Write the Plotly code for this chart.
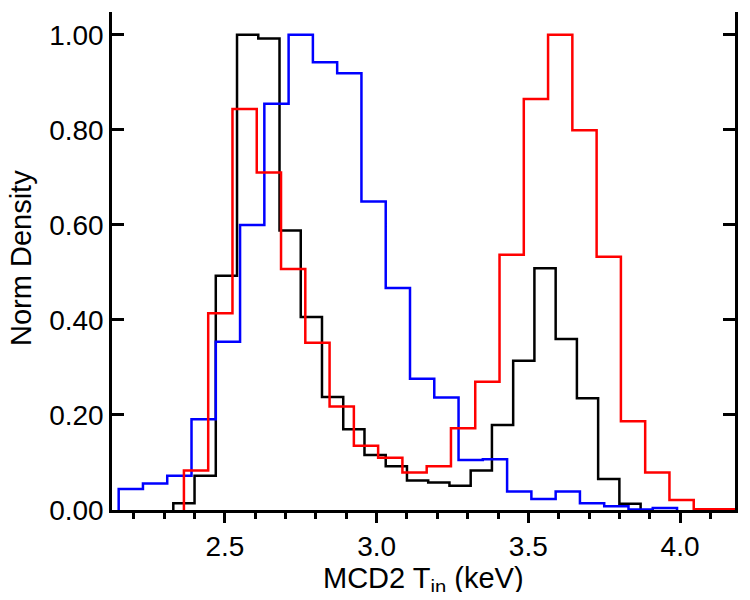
import plotly.graph_objects as go

# bin edges (keV) and normalised densities
black_edges = [2.33, 2.40, 2.47, 2.54, 2.61, 2.68, 2.75, 2.82, 2.89, 2.96, 3.03, 3.10,
               3.17, 3.24, 3.31, 3.38, 3.45, 3.52, 3.59, 3.66, 3.73, 3.80, 3.87]
black_vals = [0.014, 0.072, 0.493, 1.000, 0.992, 0.588, 0.406, 0.238, 0.170, 0.116, 0.092,
              0.062, 0.058, 0.051, 0.083, 0.179, 0.314, 0.509, 0.360, 0.235, 0.065, 0.013]

blue_edges = [2.15, 2.23, 2.31, 2.39, 2.47, 2.55, 2.63, 2.71, 2.79, 2.87, 2.95, 3.03,
              3.11, 3.19, 3.27, 3.35, 3.43, 3.51, 3.59, 3.67, 3.75, 3.83, 3.91, 3.99]
blue_vals = [0.044, 0.056, 0.072, 0.191, 0.354, 0.600, 0.855, 1.000, 0.942, 0.919, 0.649,
             0.467, 0.276, 0.237, 0.105, 0.107, 0.039, 0.023, 0.039, 0.014, 0.008, 0.001, 0.004]

red_edges = [2.365, 2.445, 2.525, 2.605, 2.685, 2.765, 2.845, 2.925, 3.005, 3.085, 3.165,
             3.245, 3.325, 3.405, 3.485, 3.565, 3.645, 3.725, 3.805, 3.885, 3.965, 4.045,
             4.125, 4.205]
red_vals = [0.083, 0.414, 0.844, 0.710, 0.507, 0.352, 0.218, 0.135, 0.110, 0.079, 0.092,
            0.172, 0.270, 0.537, 0.865, 1.000, 0.799, 0.533, 0.187, 0.079, 0.021, 0.0015,
            0.0015]

x_ticks = [2.5, 3.0, 3.5, 4.0]
x_labels = ["2.5", "3.0", "3.5", "4.0"]
y_ticks = [0, 0.2, 0.4, 0.6, 0.8, 1.0]
y_labels = ["0.00", "0.20", "0.40", "0.60", "0.80", "1.00"]
x_title = "MCD2 T<sub>in</sub> (keV)"
y_title = "Norm Density"

x_range = [2.128, 4.181]
y_range = [0, 1.048]
FONT = "Liberation Sans, Arial, Helvetica, sans-serif"
LW = 2.5


def step_trace(edges, vals, color):
    # outline histogram: up from zero at first edge, down to zero at last edge
    xs = [edges[0]] + list(edges)
    ys = [0] + list(vals) + [0]
    return go.Scatter(x=xs, y=ys, mode="lines", line=dict(color=color, width=LW, shape="hv"),
                      showlegend=False, hoverinfo="skip")


fig = go.Figure()
fig.add_trace(step_trace(black_edges, black_vals, "black"))
fig.add_trace(step_trace(blue_edges, blue_vals, "#0000ff"))
fig.add_trace(step_trace(red_edges, red_vals, "#ff0000"))

# page body has an 8px margin, so the figure is a bit smaller than the window
fig.update_layout(
    width=734, height=584,
    margin=dict(l=104, r=7, t=4, b=82, autoexpand=False),
    plot_bgcolor="white", paper_bgcolor="white",
    font=dict(family=FONT, size=25, color="black"),
    xaxis=dict(
        range=x_range, showgrid=False, zeroline=False, automargin=False,
        showline=True, linecolor="black", linewidth=LW,
        ticks="outside", ticklen=10, tickwidth=LW, tickcolor="black",
        tickvals=x_ticks, ticktext=x_labels,
        minor=dict(dtick=0.1, tick0=2.0, ticks="outside", ticklen=6, tickwidth=LW,
                   tickcolor="black", showgrid=False),
        tickfont=dict(size=28),
    ),
    xaxis2=dict(
        range=x_range, overlaying="x", side="top", anchor="y", automargin=False,
        showgrid=False, zeroline=False,
        showline=True, linecolor="black", linewidth=LW,
        ticks="inside", ticklen=9, tickwidth=LW, tickcolor="black",
        tickvals=x_ticks, showticklabels=False,
    ),
    yaxis=dict(
        range=y_range, showgrid=False, zeroline=False, automargin=False,
        showline=True, linecolor="black", linewidth=LW, mirror="ticks",
        ticks="inside", ticklen=12, tickwidth=LW, tickcolor="black",
        tickvals=y_ticks, ticktext=y_labels,
        tickfont=dict(size=28),
    ),
)

# axis titles placed by hand so they sit where the original has them
fig.add_annotation(text=x_title, xref="paper", yref="paper", x=0.5, y=0,
                   xanchor="center", yanchor="top", yshift=-50, showarrow=False,
                   font=dict(size=29))
fig.add_annotation(text=y_title, xref="paper", yref="paper", x=0, y=0.5,
                   xanchor="center", yanchor="middle", xshift=-91, yshift=3,
                   textangle=-90, showarrow=False, font=dict(size=29))

fig.write_html("out.html")
